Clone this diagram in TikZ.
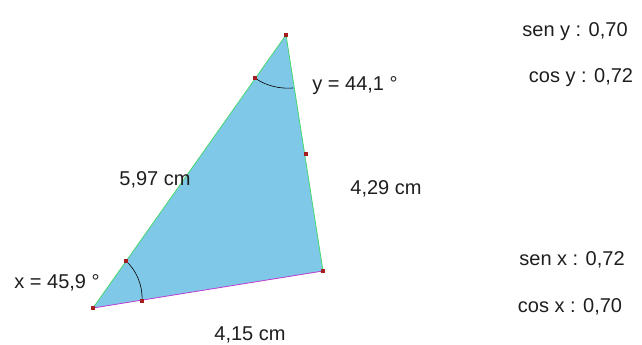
\documentclass[tikz,border=0pt]{standalone}
\usepackage{fontspec}
\setmainfont{Liberation Sans}
\usepackage{tikz}
\usetikzlibrary{positioning}
\definecolor{fillblue}{RGB}{128,200,232}
\definecolor{sidegreen}{RGB}{70,215,110}
\definecolor{sidemagenta}{RGB}{190,60,210}
\definecolor{ptred}{RGB}{165,30,30}
\definecolor{txtgray}{RGB}{30,30,30}

\begin{document}
\begin{tikzpicture}[
            x=1pt, y=-1pt,
            every node/.style={
                inner sep=0pt, text=txtgray,
                font=\fontsize{20}{24}\selectfont
            },
            pt/.style={fill=ptred, minimum size=4pt, inner sep=0pt},
            angarc/.style={black, semithick}
        ]
        \useasboundingbox (0,0) rectangle (642,345);
        % vertices
        \coordinate (A) at (93,308);
        \coordinate (T) at (286,35);
        \coordinate (R) at (323,271);
        % triangle
        \fill[fillblue] (A) -- (T) -- (R) -- cycle;
        \draw[sidegreen, thick] (R) -- (T) -- (A);
        \draw[sidemagenta, thick] (A) -- (R);
        % angle arcs
        \coordinate (ax1) at (126,261);
        \coordinate (ax2) at (142,301);
        \coordinate (ay1) at (255,78);
        \coordinate (ay2) at (293,88);
        \draw[angarc] (ax1) .. controls (136,270) and (143,285) .. (ax2);
        \draw[angarc] (ay1) .. controls (266,86) and (280,89) .. (ay2);
        % points
        \node[pt] (pA) at (A) {};
        \node[pt] (pT) at (T) {};
        \node[pt] (pR) at (R) {};
        \node[pt] (pX1) at (ax1) {};
        \node[pt] (pX2) at (ax2) {};
        \node[pt] (pY1) at (ay1) {};
        \node[pt] (pM) at (306,154) {};
        % labels
        \node (lenAT) at (155,180) {5,97 cm};
        \node (lenTR) at (386,189) {4,29 cm};
        \node (lenAR) at (250,335) {4,15 cm};
        \node (angx) at (57,283) {x = 45,9 °};
        \node (angy) at (355,86) {y = 44,1 °};
        \node (seny) at (575,32) {sen y : 0,70};
        \node (cosy) at (581,78) {cos y : 0,72};
        \node (senx) at (572,260) {sen x : 0,72};
        \node (cosx) at (570,307) {cos x : 0,70};
\end{tikzpicture}
\end{document}
